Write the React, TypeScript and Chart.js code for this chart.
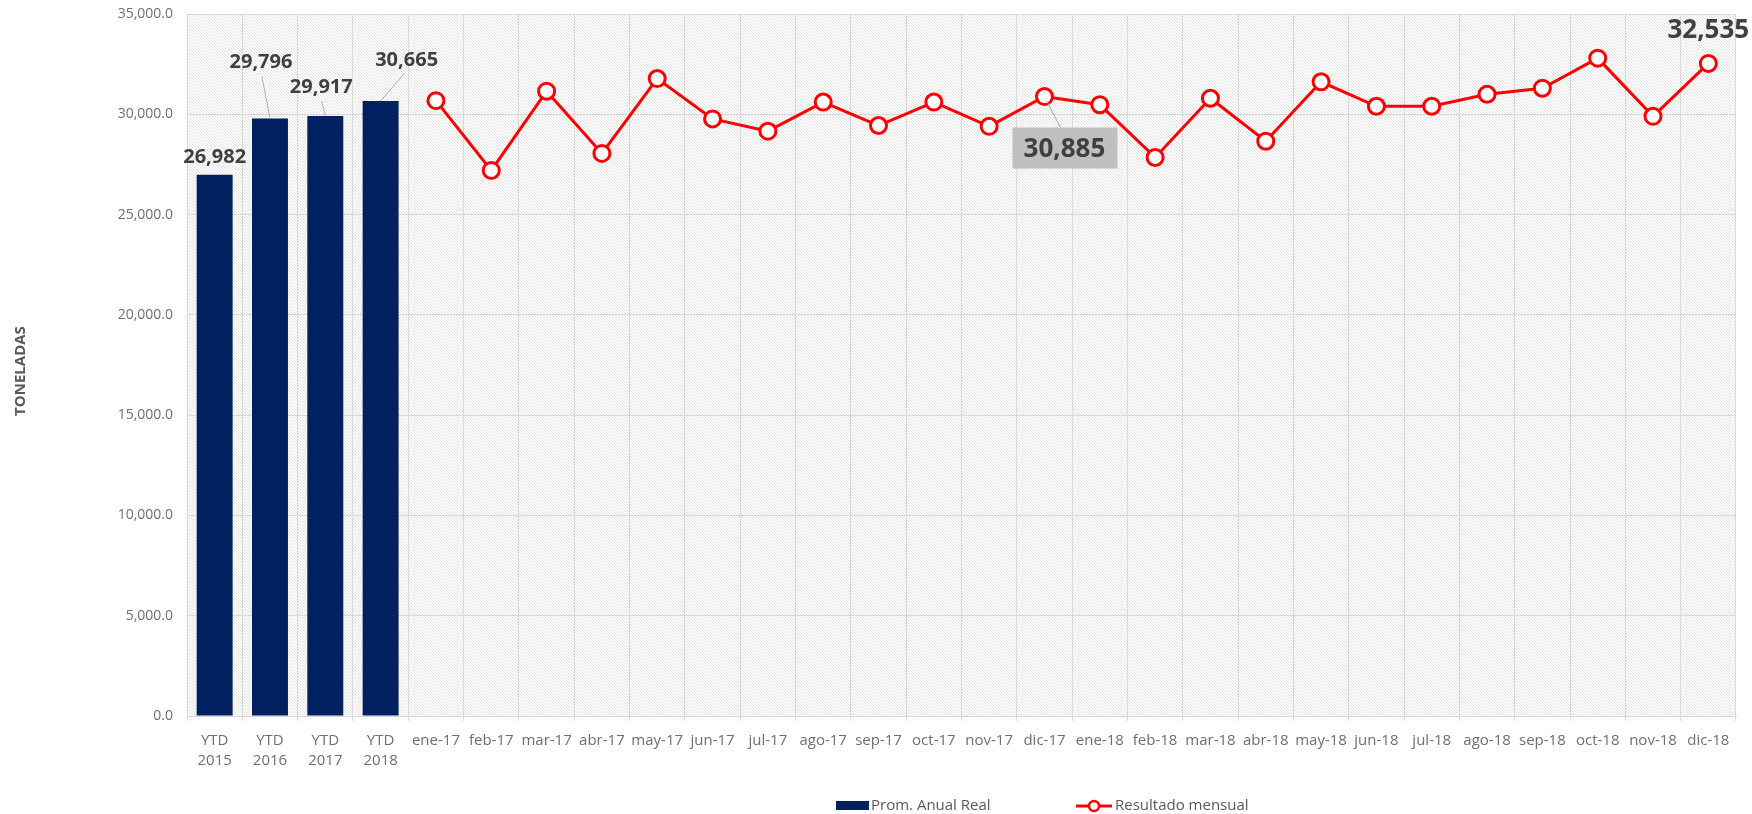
import React, { useEffect, useRef } from "react";
import { Chart, registerables } from "chart.js";

Chart.register(...registerables);

const categories: (string | string[])[] = [
  ["YTD", "2015"], ["YTD", "2016"], ["YTD", "2017"], ["YTD", "2018"],
  "ene-17", "feb-17", "mar-17", "abr-17", "may-17", "jun-17", "jul-17", "ago-17",
  "sep-17", "oct-17", "nov-17", "dic-17",
  "ene-18", "feb-18", "mar-18", "abr-18", "may-18", "jun-18", "jul-18", "ago-18",
  "sep-18", "oct-18", "nov-18", "dic-18",
];

const annualAverage: (number | null)[] = [
  26982, 29796, 29917, 30665,
  null, null, null, null, null, null, null, null, null, null, null, null,
  null, null, null, null, null, null, null, null, null, null, null, null,
];

const monthlyResult: (number | null)[] = [
  null, null, null, null,
  30680, 27200, 31150, 28050, 31780, 29770, 29160, 30610, 29440, 30610, 29400, 30885,
  30480, 27850, 30800, 28660, 31620, 30400, 30400, 31000, 31300, 32800, 29900, 32535,
];

const yMin = 0;
const yMax = 35000;
const yStep = 5000;

const legendLabels = ["Prom. Anual Real", "Resultado mensual"];
const yTitle = "TONELADAS";

const NAVY = "#002060";
const RED = "#ff0000";
const GRID = "#d9d9d9";
const TICK = "#6f6f6f";
const LABEL = "#404040";
const FONT = "'Open Sans', 'Noto Sans', sans-serif";

const fmt0 = (v: number) => v.toLocaleString("en-US", { maximumFractionDigits: 0 });

// label placements relative to their marks (style, not data)
const barLabelOffsets = [
  { dx: 0, dy: -18, leader: false },
  { dx: -9, dy: -56, leader: true },
  { dx: -4, dy: -29, leader: true },
  { dx: 26, dy: -41, leader: true },
];

export default function App() {
  const ref = useRef<HTMLCanvasElement | null>(null);

  useEffect(() => {
    if (!ref.current) return;

    const tile = document.createElement("canvas");
    tile.width = 3;
    tile.height = 3;
    const tctx = tile.getContext("2d")!;
    tctx.fillStyle = "#ffffff";
    tctx.fillRect(0, 0, 3, 3);
    tctx.fillStyle = "#e2e2e2";
    for (let i = 0; i < 3; i++) tctx.fillRect(i, i, 1, 1);

    const bgPlugin = {
      id: "bg",
      beforeDraw(chart: any) {
        const { ctx, chartArea, width, height } = chart;
        ctx.save();
        ctx.fillStyle = "#ffffff";
        ctx.fillRect(0, 0, width, height);
        const pat = ctx.createPattern(tile, "repeat");
        ctx.fillStyle = pat;
        ctx.fillRect(chartArea.left, chartArea.top, chartArea.right - chartArea.left, chartArea.bottom - chartArea.top);
        ctx.restore();
      },
    };

    const overlayPlugin = {
      id: "overlay",
      afterDraw(chart: any) {
        const { ctx } = chart;
        ctx.save();

        // bar labels
        const barMeta = chart.getDatasetMeta(0);
        ctx.font = `bold 20px ${FONT}`;
        ctx.textAlign = "center";
        ctx.textBaseline = "middle";
        annualAverage.forEach((v, i) => {
          if (v == null) return;
          const el = barMeta.data[i];
          const off = barLabelOffsets[i] || { dx: 0, dy: -18, leader: false };
          const lx = el.x + off.dx;
          const ly = el.y + off.dy;
          if (off.leader) {
            ctx.strokeStyle = "#b0b0b0";
            ctx.lineWidth = 1;
            ctx.beginPath();
            ctx.moveTo(lx + off.dx * -0.1, ly + 14);
            ctx.lineTo(el.x, el.y);
            ctx.stroke();
          }
          ctx.fillStyle = LABEL;
          ctx.fillText(fmt0(v), lx, ly);
        });

        // line labels (dic-17 with box, dic-18 plain)
        const lineMeta = chart.getDatasetMeta(1);
        const iDic17 = categories.indexOf("dic-17");
        const iDic18 = categories.indexOf("dic-18");
        {
          const p = lineMeta.data[iDic17];
          const v = monthlyResult[iDic17] as number;
          const cx = p.x + 20;
          const cy = p.y + 52;
          ctx.strokeStyle = "#a6a6a6";
          ctx.lineWidth = 1;
          ctx.beginPath();
          ctx.moveTo(p.x + 2, p.y + 4);
          ctx.lineTo(cx - 4, cy - 21);
          ctx.stroke();
          ctx.fillStyle = "#bfbfbf";
          ctx.fillRect(cx - 52, cy - 21, 105, 41);
          ctx.font = `bold 26px ${FONT}`;
          ctx.fillStyle = LABEL;
          ctx.fillText(fmt0(v), cx, cy + 1);
        }
        {
          const p = lineMeta.data[iDic18];
          const v = monthlyResult[iDic18] as number;
          ctx.font = `bold 26px ${FONT}`;
          ctx.fillStyle = LABEL;
          ctx.fillText(fmt0(v), p.x, p.y - 33);
        }

        // y axis title
        ctx.save();
        ctx.translate(21, 371);
        ctx.rotate(-Math.PI / 2);
        ctx.font = `bold 15px ${FONT}`;
        ctx.fillStyle = "#595959";
        ctx.fillText(yTitle, 0, 0);
        ctx.restore();

        // legend
        ctx.font = `15px ${FONT}`;
        ctx.textAlign = "left";
        ctx.textBaseline = "middle";
        ctx.fillStyle = NAVY;
        ctx.fillRect(836, 801, 33, 9);
        ctx.fillStyle = "#595959";
        ctx.fillText(legendLabels[0], 871, 806);

        ctx.strokeStyle = RED;
        ctx.lineWidth = 3;
        ctx.beginPath();
        ctx.moveTo(1076, 806);
        ctx.lineTo(1112, 806);
        ctx.stroke();
        ctx.beginPath();
        ctx.arc(1094, 806, 5, 0, Math.PI * 2);
        ctx.fillStyle = "#ffffff";
        ctx.fill();
        ctx.lineWidth = 2.5;
        ctx.stroke();
        ctx.fillStyle = "#595959";
        ctx.fillText(legendLabels[1], 1115, 806);

        ctx.restore();
      },
    };

    const chart = new Chart(ref.current, {
      type: "bar",
      data: {
        labels: categories as any,
        datasets: [
          {
            type: "bar",
            label: legendLabels[0],
            data: annualAverage,
            backgroundColor: NAVY,
            barPercentage: 0.65,
            categoryPercentage: 1,
            order: 2,
          } as any,
          {
            type: "line",
            label: legendLabels[1],
            data: monthlyResult,
            borderColor: RED,
            borderWidth: 3,
            pointRadius: 8,
            pointBorderWidth: 3,
            pointBackgroundColor: "#ffffff",
            pointBorderColor: RED,
            tension: 0,
            order: 1,
          } as any,
        ],
      },
      options: {
        responsive: false,
        animation: false,
        events: [],
        layout: { padding: { top: 14, right: 16, left: 0, bottom: 38 } },
        plugins: {
          legend: { display: false },
          tooltip: { enabled: false },
        },
        scales: {
          x: {
            offset: true,
            grid: {
              color: GRID,
              offset: true,
              tickLength: 5,
              drawTicks: true,
            },
            border: { color: GRID },
            ticks: {
              color: TICK,
              font: { family: FONT, size: 15, lineHeight: 1.33 },
              padding: 10,
              maxRotation: 0,
              autoSkip: false,
            },
            afterFit(scale: any) {
              scale.height = 60;
            },
          },
          y: {
            min: yMin,
            max: yMax,
            grid: { color: GRID, drawTicks: false },
            border: { color: GRID },
            ticks: {
              stepSize: yStep,
              color: TICK,
              padding: 14,
              font: { family: FONT, size: 14 },
              callback: (v: any) =>
                Number(v).toLocaleString("en-US", { minimumFractionDigits: 1, maximumFractionDigits: 1 }),
            },
            afterFit(scale: any) {
              scale.width = 187;
              scale.paddingTop = 8;
              scale.paddingBottom = 8;
            },
          },
        },
      },
      plugins: [bgPlugin, overlayPlugin],
    });

    return () => chart.destroy();
  }, []);

  return (
    <div style={{ position: "fixed", left: 0, top: 0, width: 1752, height: 814, background: "#fff" }}>
      <canvas ref={ref} width={1752} height={814} style={{ display: "block", width: 1752, height: 814 }} />
    </div>
  );
}
